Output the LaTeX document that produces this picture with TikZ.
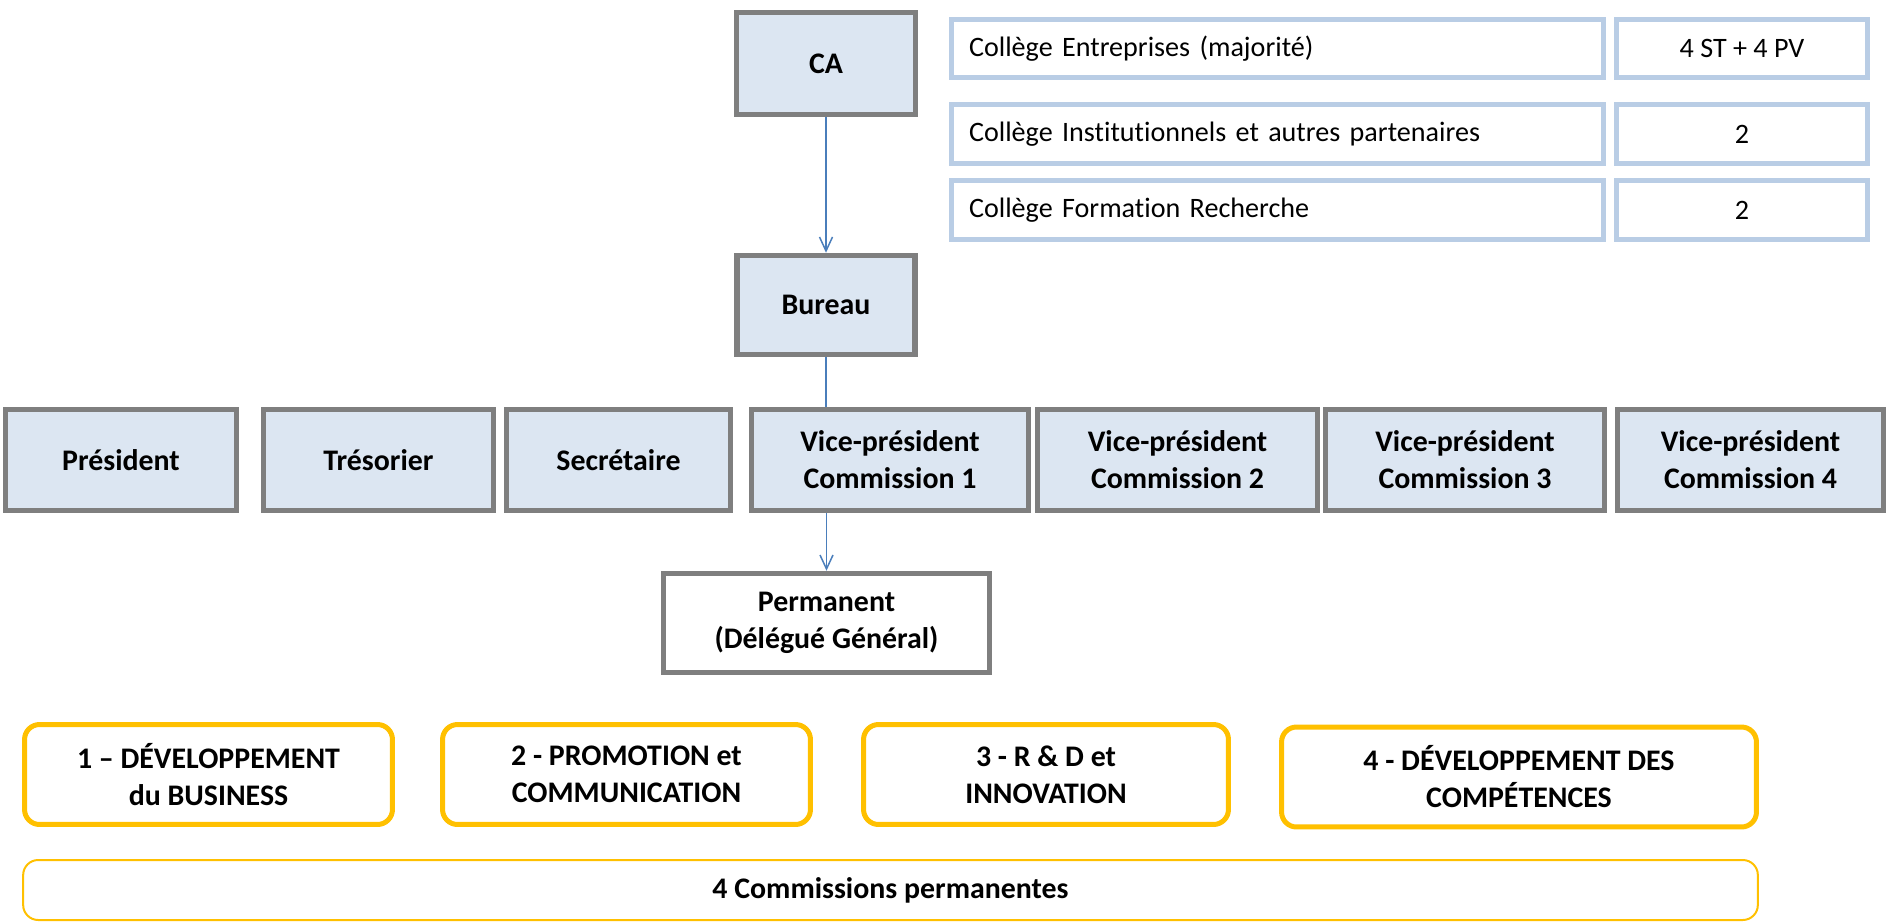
\documentclass[tikz,border=0pt]{standalone}
\usepackage{fontspec}
\setmainfont{Carlito}[Ligatures=NoCommon]
\usetikzlibrary{arrows.meta}
\definecolor{boxgrey}{HTML}{7F7F7F}
\definecolor{boxfill}{HTML}{DCE6F2}
\definecolor{cellblue}{HTML}{B9CDE5}
\definecolor{ygold}{HTML}{FFC000}
\definecolor{linkblue}{HTML}{4A7EBB}
\tikzset{
  boldtext/.style={font=\fontsize{17}{21}\selectfont\bfseries},
  greybox/.style={draw=boxgrey, line width=0.11cm, fill=boxfill, boldtext, align=center, inner sep=0pt, minimum height=2.02cm},
  permbox/.style={greybox, fill=white},
  cellbox/.style={draw=cellblue, line width=0.1cm, fill=white, inner sep=0pt, minimum height=1.18cm, font=\fontsize{16}{20}\selectfont},
  ybox/.style={draw=ygold, line width=0.1cm, rounded corners=0.3cm, fill=white, boldtext, align=center, inner sep=0pt, minimum height=2.0cm},
  link/.style={draw=linkblue, line width=0.03cm},
  arr/.style={link, -{Straight Barb[length=0.28cm, width=0.26cm, line width=0.03cm]}}
}
\begin{document}
\begin{tikzpicture}[x=0.02cm, y=-0.02cm]
\useasboundingbox (0,0) rectangle (1889,922);
% top
\node[greybox, minimum width=3.58cm, minimum height=2.04cm] (ca) at (826,63.5) {CA};
\node[greybox, minimum width=3.56cm, minimum height=1.98cm] (bureau) at (826,305) {Bureau};
% college table
\node[cellbox, minimum width=13.04cm, text width=12.34cm, align=left, inner xsep=0.35cm] (c1) at (1277.5,48.5) {Collège Entreprises (majorité)};
\node[cellbox, minimum width=5.02cm, align=center] (v1) at (1742,48.5) {4 ST + 4 PV};
\node[cellbox, minimum width=13.04cm, text width=12.34cm, align=left, inner xsep=0.35cm] (c2) at (1277.5,134) {Collège Institutionnels et autres partenaires};
\node[cellbox, minimum width=5.02cm, align=center] (v2) at (1742,134) {2};
\node[cellbox, minimum width=13.04cm, text width=12.34cm, align=left, inner xsep=0.35cm] (c3) at (1277.5,210) {Collège Formation Recherche};
\node[cellbox, minimum width=5.02cm, align=center] (v3) at (1742,210) {2};
% officers
\node[greybox, minimum width=4.62cm] (pres) at (121,460) {Président};
\node[greybox, minimum width=4.60cm] (tres) at (378.5,460) {Trésorier};
\node[greybox, minimum width=4.48cm] (secr) at (618.5,460) {Secrétaire};
\node[greybox, minimum width=5.54cm] (vp1) at (890,460) {Vice-président\\Commission 1};
\node[greybox, minimum width=5.60cm] (vp2) at (1177.5,460) {Vice-président\\Commission 2};
\node[greybox, minimum width=5.58cm] (vp3) at (1465,460) {Vice-président\\Commission 3};
\node[greybox, minimum width=5.32cm] (vp4) at (1750.5,460) {Vice-président\\Commission 4};
% permanent
\node[permbox, minimum width=6.52cm, minimum height=1.98cm] (perm) at (826.5,623) {Permanent\\(Délégué Général)};
% commissions
\node[ybox, minimum width=7.36cm] (k1) at (208.5,774.5) {1 – DÉVELOPPEMENT\\du BUSINESS};
\node[ybox, minimum width=7.36cm] (k2) at (626.5,774.5) {2 - PROMOTION et\\COMMUNICATION};
\node[ybox, minimum width=7.30cm] (k3) at (1046,774.5) {3 - R \& D et\\INNOVATION};
\node[ybox, minimum width=9.50cm] (k4) at (1519,777) {4 - DÉVELOPPEMENT DES\\COMPÉTENCES};
\node[ybox, line width=0.04cm, minimum width=34.7cm, minimum height=1.2cm] (all) at (890.5,890) {\raisebox{-0.1cm}{4 Commissions permanentes}};
% connectors
\draw[arr] (ca.south) -- (bureau.north);
\draw[link] (bureau.south) -- (bureau.south |- vp1.north);
\draw[arr] (vp1.south -| perm.north) -- (perm.north);
\end{tikzpicture}
\end{document}
